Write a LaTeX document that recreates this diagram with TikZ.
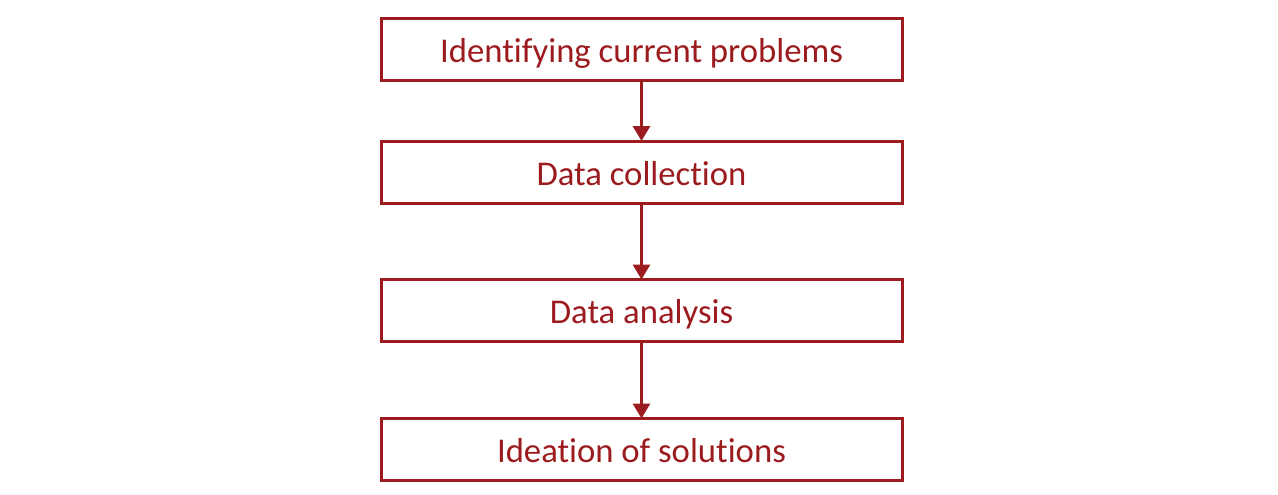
\documentclass[tikz,border=0pt]{standalone}
\usepackage{fontspec}
\setmainfont[Ligatures={NoCommon}]{Carlito}
\usetikzlibrary{arrows.meta}
\definecolor{boxred}{HTML}{9B1B1E}
\begin{document}
\begin{tikzpicture}[x=1pt,y=-1pt,
  stepbox/.style={draw=boxred, line width=3pt, minimum width=521pt, minimum height=62pt,
    inner sep=0pt, outer sep=0pt, text=boxred, text height=30pt, text depth=4pt,
    font=\fontsize{34.7}{40}\selectfont},
  flow/.style={draw=boxred, line width=3pt, -{Triangle[length=15pt,width=17pt]}}]
\useasboundingbox (0,0) rectangle (1278,495);
\node[stepbox] (a) at (641.5,50) {Identifying current problems};
\node[stepbox] (b) at (641.5,172) {Data collection};
\node[stepbox] (c) at (641.5,310.5) {Data analysis};
\node[stepbox] (d) at (641.5,449.5) {Ideation of solutions};
\draw[flow] (a.south) -- (b.north);
\draw[flow] (b.south) -- (c.north);
\draw[flow] (c.south) -- (d.north);
\end{tikzpicture}
\end{document}
